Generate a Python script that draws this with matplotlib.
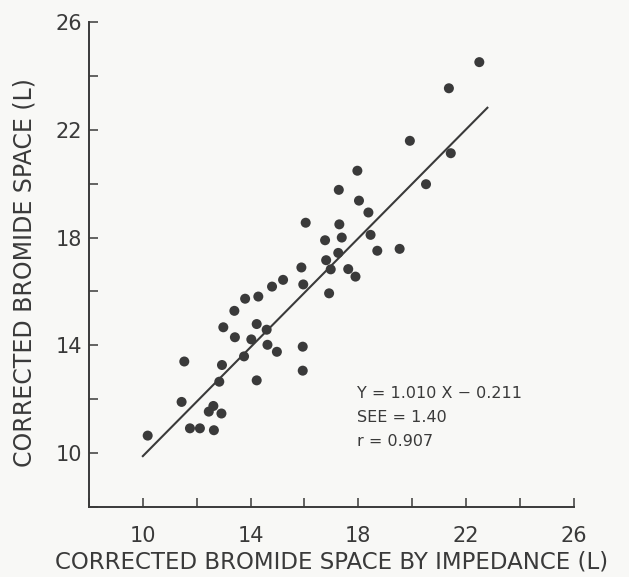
import numpy as np
import matplotlib
matplotlib.use("Agg")
import matplotlib.pyplot as plt
from matplotlib.ticker import MultipleLocator

# ==========================================
# Data
# ==========================================

impedance_x = [
    10.18, 11.44, 11.54, 11.75, 12.12, 12.64, 12.45, 12.62, 12.92, 12.84,
    12.94, 13.76, 14.23, 12.99, 13.42, 13.40, 13.80, 14.29, 14.80, 15.21,
    14.23, 14.60, 14.03, 14.63, 14.98, 15.94, 15.94, 15.89, 15.96, 16.92,
    16.81, 16.98, 16.77, 17.26, 17.63, 17.90, 17.39, 17.30, 16.05, 18.46,
    18.71, 19.54, 18.38, 18.03, 17.28, 17.97, 20.52, 19.92, 21.44, 21.37,
    22.50,
]
bromide_y = [
    10.65, 11.90, 13.40, 10.92, 10.92, 10.85, 11.54, 11.75, 11.47, 12.65,
    13.27, 13.59, 12.70, 14.67, 14.30, 15.28, 15.73, 15.81, 16.18, 16.43,
    14.79, 14.58, 14.22, 14.02, 13.76, 13.95, 13.06, 16.89, 16.26, 15.93,
    17.16, 16.82, 17.90, 17.43, 16.83, 16.55, 18.00, 18.49, 18.55, 18.10,
    17.51, 17.58, 18.93, 19.37, 19.77, 20.48, 19.98, 21.59, 21.13, 23.54,
    24.51,
]

slope = 1.010
intercept = -0.211
fit_range = [10.0, 22.8]

x_ticks = [10, 14, 18, 22, 26]
y_ticks = [10, 14, 18, 22, 26]

ink = "#3a3a3a"
paper = "#f8f8f6"

# ==========================================
# Plot
# ==========================================

fig = plt.figure(figsize=(6.29, 5.77), dpi=100, facecolor=paper)
ax = fig.add_axes([0.1415, 0.1213, 0.7703, 0.8406], facecolor=paper)

ax.scatter(impedance_x, bromide_y, s=52, color=ink, edgecolors="none", zorder=3)

fx = np.array(fit_range)
ax.plot(fx, slope * fx + intercept, color=ink, linewidth=1.5, zorder=2)

ax.set_xlim(8, 26)
ax.set_ylim(8, 26)

ax.spines["top"].set_visible(False)
ax.spines["right"].set_visible(False)
for side in ["left", "bottom"]:
    ax.spines[side].set_linewidth(1.4)
    ax.spines[side].set_color(ink)

ax.set_xticks(x_ticks)
ax.set_yticks(y_ticks)
ax.xaxis.set_minor_locator(MultipleLocator(2))
ax.yaxis.set_minor_locator(MultipleLocator(2))
ax.tick_params(axis="both", which="both", direction="in", length=6.5,
               width=1.1, color=ink)
ax.tick_params(axis="x", which="major", labelsize=15, labelcolor=ink, pad=14)
ax.tick_params(axis="y", which="major", labelsize=15, labelcolor=ink, pad=5)

ax.set_xlabel("CORRECTED BROMIDE SPACE BY IMPEDANCE (L)", fontsize=16.5,
              color=ink, labelpad=3)
ax.set_ylabel("CORRECTED BROMIDE SPACE (L)", fontsize=17, color=ink)
ax.yaxis.set_label_coords(-0.108, 0.483)

ax.text(0.553, 0.25,
        "Y = 1.010 X \u2212 0.211\nSEE = 1.40\nr = 0.907",
        transform=ax.transAxes, fontsize=11.5, color=ink,
        va="top", ha="left", linespacing=1.75)

fig.savefig("out.png", dpi=100, facecolor=paper)
